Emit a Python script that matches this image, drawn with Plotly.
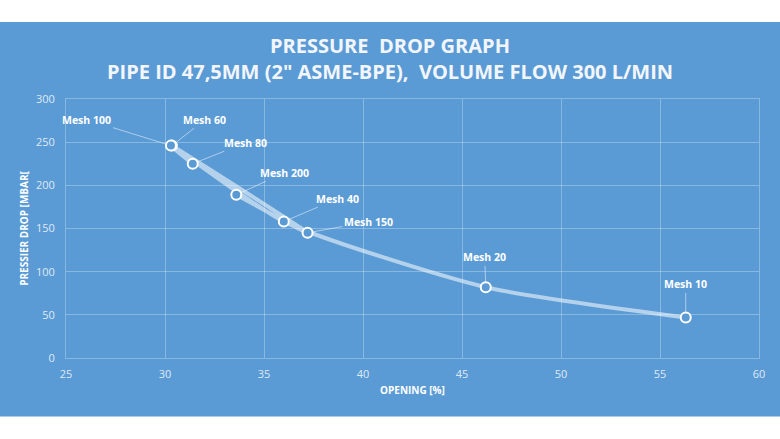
import plotly.graph_objects as go

# data
mesh_labels = ["Mesh 10", "Mesh 20", "Mesh 40", "Mesh 60", "Mesh 80", "Mesh 100", "Mesh 150", "Mesh 200"]
opening_pct = [56.3, 46.2, 36.0, 30.35, 31.4, 30.3, 37.2, 33.6]
pressure_mbar = [47, 82, 158, 246, 225, 246, 145, 189]

# label offsets (px) from each point, in the same order as mesh_labels
label_ax = [0, -1, 54, 33, 53, -84, 61, 48]
label_ay = [-33, -30, -23, -26, -21, -26, -11, -22]

BLUE = "#5B9BD5"
GRID = "rgba(255,255,255,0.28)"
FONT = "Open Sans"
TITLE_COLOR = "#F2F6FB"


def main():
    fig = go.Figure()

    fig.add_trace(go.Scatter(x=opening_pct, y=pressure_mbar,
                             mode='lines',
                             line=dict(color="rgba(255,255,255,0.55)", width=4, shape='spline', smoothing=0.6),
                             hoverinfo='skip',
                             showlegend=False))

    fig.add_trace(go.Scatter(x=opening_pct, y=pressure_mbar,
                             mode='markers',
                             marker=dict(symbol='circle', size=10, color=BLUE,
                                         line=dict(color="white", width=2)),
                             text=mesh_labels,
                             hovertemplate="%{text}<br>opening: %{x}%<br>pressure drop: %{y} mbar<extra></extra>",
                             showlegend=False))

    for label, x, y, ax, ay in zip(mesh_labels, opening_pct, pressure_mbar, label_ax, label_ay):
        fig.add_annotation(x=x, y=y, text="<b>" + label + "</b>", showarrow=True,
                           ax=ax, ay=ay, arrowhead=0, arrowwidth=1,
                           arrowcolor="rgba(255,255,255,0.5)", standoff=5,
                           font=dict(family=FONT, size=10.5, color="white"))

    # title lines, centred on the whole figure rather than the plot area
    fig.add_annotation(xref='paper', yref='paper', x=0.467, y=1.205, showarrow=False,
                       text="<b>PRESSURE  DROP GRAPH</b>", xanchor='center', yanchor='middle',
                       font=dict(family=FONT, size=20, color=TITLE_COLOR))
    fig.add_annotation(xref='paper', yref='paper', x=0.467, y=1.108, showarrow=False,
                       text="<b>PIPE ID 47,5MM (2\" ASME-BPE),  VOLUME FLOW 300 L/MIN</b>",
                       xanchor='center', yanchor='middle',
                       font=dict(family=FONT, size=20, color=TITLE_COLOR))

    # blue panel behind the chart
    fig.add_shape(type='rect', xref='paper', yref='paper', x0=-0.2, x1=1.2, y0=-0.2254, y1=1.297,
                  fillcolor=BLUE, line=dict(width=0), layer='below')

    axis_style = dict(showgrid=True, gridcolor=GRID, gridwidth=1,
                      showline=True, linecolor=GRID, linewidth=1, mirror=True,
                      zeroline=False, ticks='',
                      tickfont=dict(family=FONT, size=11, color="rgba(255,255,255,0.8)"))

    fig.update_xaxes(range=[25, 60], dtick=5, ticklabelstandoff=6,
                     title=dict(text="<b>OPENING [%]</b>", standoff=6,
                                font=dict(family=FONT, size=10, color="white")),
                     **axis_style)
    fig.update_yaxes(range=[0, 300], dtick=50, ticklabelstandoff=8,
                     title=dict(text="<b>PRESSIER DROP [MBAR[</b>", standoff=5,
                                font=dict(family=FONT, size=10, color="white")),
                     **axis_style)

    fig.update_layout(width=780, height=439,
                      margin=dict(l=66, r=21, t=99, b=81),
                      paper_bgcolor="white",
                      plot_bgcolor="rgba(0,0,0,0)",
                      font=dict(family=FONT, color="white"))

    fig.write_html("out.html", config={'displayModeBar': False},
                   post_script="document.body.style.margin = '0';")


if __name__ == '__main__':
    main()
